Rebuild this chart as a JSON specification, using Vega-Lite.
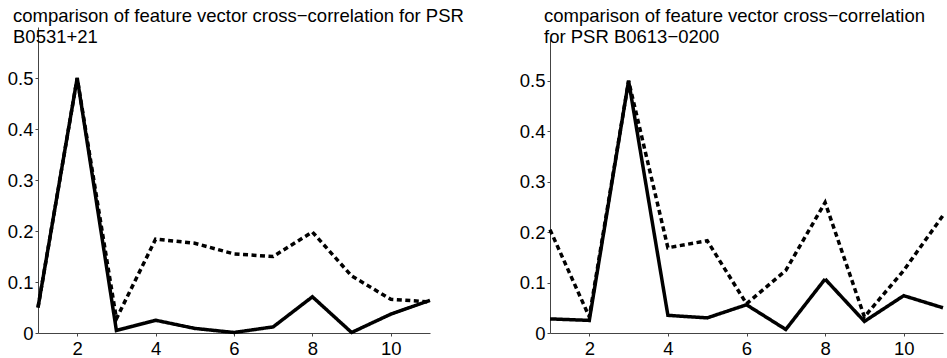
{
  "$schema": "https://vega.github.io/schema/vega-lite/v6.json",
  "background": "white",
  "padding": {"left": 7, "top": 6, "right": 0, "bottom": 0},
  "spacing": 120,
  "bounds": "flush",
  "data": {"values": [
    {"panel": "A", "series": "dashed", "x": 1, "y": 0.05},
    {"panel": "A", "series": "dashed", "x": 2, "y": 0.5},
    {"panel": "A", "series": "dashed", "x": 3, "y": 0.028},
    {"panel": "A", "series": "dashed", "x": 4, "y": 0.184},
    {"panel": "A", "series": "dashed", "x": 5, "y": 0.176},
    {"panel": "A", "series": "dashed", "x": 6, "y": 0.155},
    {"panel": "A", "series": "dashed", "x": 7, "y": 0.15},
    {"panel": "A", "series": "dashed", "x": 8, "y": 0.198},
    {"panel": "A", "series": "dashed", "x": 9, "y": 0.112},
    {"panel": "A", "series": "dashed", "x": 10, "y": 0.066},
    {"panel": "A", "series": "dashed", "x": 11, "y": 0.061},
    {"panel": "A", "series": "solid", "x": 1, "y": 0.05},
    {"panel": "A", "series": "solid", "x": 2, "y": 0.5},
    {"panel": "A", "series": "solid", "x": 3, "y": 0.005},
    {"panel": "A", "series": "solid", "x": 4, "y": 0.025},
    {"panel": "A", "series": "solid", "x": 5, "y": 0.009},
    {"panel": "A", "series": "solid", "x": 6, "y": 0.001},
    {"panel": "A", "series": "solid", "x": 7, "y": 0.012},
    {"panel": "A", "series": "solid", "x": 8, "y": 0.071},
    {"panel": "A", "series": "solid", "x": 9, "y": 0.001},
    {"panel": "A", "series": "solid", "x": 10, "y": 0.037},
    {"panel": "A", "series": "solid", "x": 11, "y": 0.064},
    {"panel": "B", "series": "dashed", "x": 1, "y": 0.205},
    {"panel": "B", "series": "dashed", "x": 2, "y": 0.032},
    {"panel": "B", "series": "dashed", "x": 3, "y": 0.5},
    {"panel": "B", "series": "dashed", "x": 4, "y": 0.169},
    {"panel": "B", "series": "dashed", "x": 5, "y": 0.183},
    {"panel": "B", "series": "dashed", "x": 6, "y": 0.058},
    {"panel": "B", "series": "dashed", "x": 7, "y": 0.124},
    {"panel": "B", "series": "dashed", "x": 8, "y": 0.259},
    {"panel": "B", "series": "dashed", "x": 9, "y": 0.032},
    {"panel": "B", "series": "dashed", "x": 10, "y": 0.124},
    {"panel": "B", "series": "dashed", "x": 11, "y": 0.233},
    {"panel": "B", "series": "solid", "x": 1, "y": 0.028},
    {"panel": "B", "series": "solid", "x": 2, "y": 0.025},
    {"panel": "B", "series": "solid", "x": 3, "y": 0.5},
    {"panel": "B", "series": "solid", "x": 4, "y": 0.035},
    {"panel": "B", "series": "solid", "x": 5, "y": 0.03},
    {"panel": "B", "series": "solid", "x": 6, "y": 0.056},
    {"panel": "B", "series": "solid", "x": 7, "y": 0.007},
    {"panel": "B", "series": "solid", "x": 8, "y": 0.107},
    {"panel": "B", "series": "solid", "x": 9, "y": 0.023},
    {"panel": "B", "series": "solid", "x": 10, "y": 0.074},
    {"panel": "B", "series": "solid", "x": 11, "y": 0.05}
  ]},
  "config": {
    "view": {"stroke": null},
    "font": "Liberation Sans",
    "axis": {"grid": false, "domainColor": "#444444", "tickColor": "#444444", "labelColor": "black", "labelFont": "Liberation Sans", "labelFontSize": 18.5, "tickSize": 3, "labelPadding": 2, "title": null, "domainWidth": 1, "tickWidth": 1},
    "title": {"font": "Liberation Sans", "fontSize": 18.5, "fontWeight": "normal", "anchor": "start", "frame": "group", "lineHeight": 21, "color": "black"}
  },
  "hconcat": [
    {
      "width": 392,
      "height": 306,
      "title": {"text": ["comparison of feature vector cross−correlation for PSR", "B0531+21"], "offset": -19, "dx": -25},
      "transform": [{"filter": "datum.panel === 'A'"}],
      "mark": {"type": "line", "strokeWidth": 3.5, "color": "black", "strokeCap": "butt"},
      "encoding": {
        "x": {"field": "x", "type": "quantitative", "scale": {"domain": [1, 11], "nice": false, "zero": false}, "axis": {"values": [2, 4, 6, 8, 10], "labelPadding": 3}},
        "y": {"field": "y", "type": "quantitative", "scale": {"domain": [0, 0.6], "nice": false}, "axis": {"values": [0, 0.1, 0.2, 0.3, 0.4, 0.5], "format": ".1~f"}},
        "strokeDash": {"field": "series", "type": "nominal", "scale": {"domain": ["solid", "dashed"], "range": [[1, 0], [5, 3.5]]}, "legend": null}
      }
    },
    {
      "width": 393,
      "height": 306,
      "title": {"text": ["comparison of feature vector cross−correlation", "for PSR B0613−0200"], "offset": -19, "dx": -6},
      "transform": [{"filter": "datum.panel === 'B'"}],
      "mark": {"type": "line", "strokeWidth": 3.5, "color": "black", "strokeCap": "butt"},
      "encoding": {
        "x": {"field": "x", "type": "quantitative", "scale": {"domain": [1, 11], "nice": false, "zero": false}, "axis": {"values": [2, 4, 6, 8, 10], "labelPadding": 3}},
        "y": {"field": "y", "type": "quantitative", "scale": {"domain": [0, 0.583], "nice": false, "range": [306, 12]}, "axis": {"values": [0, 0.1, 0.2, 0.3, 0.4, 0.5], "format": ".1~f"}},
        "strokeDash": {"field": "series", "type": "nominal", "scale": {"domain": ["solid", "dashed"], "range": [[1, 0], [5, 3.5]]}, "legend": null}
      }
    }
  ]
}
